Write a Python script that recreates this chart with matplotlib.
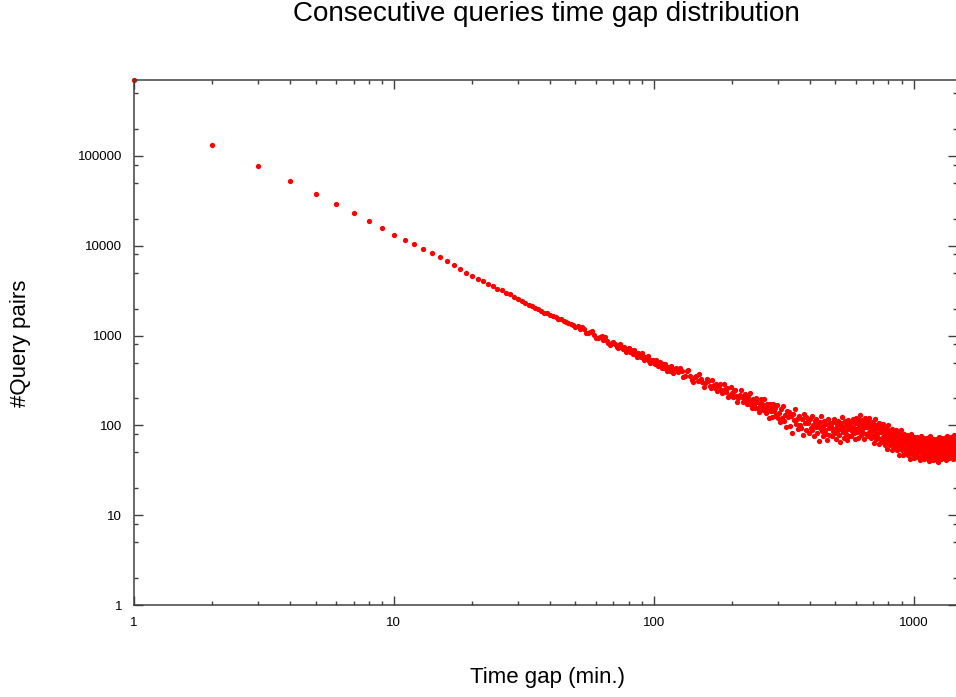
import numpy as np
import matplotlib
matplotlib.use("Agg")
import matplotlib.pyplot as plt
from matplotlib.ticker import LogLocator, FixedLocator, NullFormatter, FuncFormatter

plt.rcParams['font.family'] = ['Liberation Sans', 'DejaVu Sans']

# Query pairs per time gap, minutes 1..120 (one value per minute)
pairs_1_120 = [
    700000, 132000, 77500, 52500, 38000, 29000, 23300, 19000, 15800, 13300,
    11700, 10350, 9100, 8200, 7400, 6700, 6100, 5450, 5000, 4580,
    4300, 4050, 3780, 3560, 3320, 3190, 3010, 2880, 2660, 2540,
    2420, 2330, 2210, 2140, 2050, 1950, 1890, 1800, 1760, 1690,
    1640, 1600, 1530, 1510, 1450, 1420, 1370, 1330, 1300, 1260,
    1272, 1186, 1256, 1172, 1057, 1057, 1108, 1113, 1007, 934,
    934, 972, 981, 888, 968, 879, 828, 786, 821, 854,
    815, 746, 725, 803, 745, 710, 749, 650, 703, 732,
    654, 683, 620, 682, 627, 580, 639, 611, 572, 634,
    591, 537, 553, 584, 587, 520, 492, 528, 541, 497,
    481, 530, 499, 454, 472, 514, 484, 436, 481, 434,
    478, 438, 402, 449, 436, 401, 456, 401, 379, 423,
]

# minutes 122..300, every 2 minutes
pairs_122_300 = [
    431, 394, 439, 399, 346, 358, 400, 411, 354, 324,
    304, 344, 355, 310, 373, 329, 301, 269, 299, 327,
    311, 272, 262, 318, 280, 262, 292, 239, 274, 291,
    248, 230, 286, 253, 237, 260, 205, 219, 269, 231,
    208, 240, 248, 214, 184, 202, 219, 247, 205, 182,
    209, 226, 186, 172, 206, 186, 227, 170, 155, 187,
    197, 173, 155, 201, 183, 158, 140, 171, 197, 158,
    174, 147, 195, 158, 136, 174, 146, 157, 122, 174,
    146, 160, 123, 171, 144, 127, 158, 130, 170, 120,
]

# minutes 303..1440, every 3 minutes
pairs_303_1440 = [
    137, 108, 152, 121, 164, 113, 129, 97, 144, 123,
    141, 99, 126, 82, 134, 114, 154, 104, 119, 91,
    128, 101, 93, 118, 79, 135, 107, 89, 123, 109,
    106, 83, 119, 94, 128, 89, 101, 76, 113, 97,
    117, 82, 104, 67, 110, 94, 128, 86, 99, 76,
    112, 88, 81, 103, 69, 117, 93, 78, 107, 95,
    98, 76, 110, 86, 118, 82, 93, 70, 104, 89,
    113, 79, 100, 65, 107, 91, 124, 84, 96, 73,
    111, 87, 80, 102, 68, 116, 92, 77, 106, 94,
    99, 77, 111, 87, 119, 83, 94, 71, 105, 90,
    120, 84, 106, 72, 114, 97, 131, 88, 102, 79,
    114, 90, 83, 106, 70, 120, 95, 80, 109, 97,
    101, 77, 108, 84, 121, 80, 95, 72, 99, 87,
    109, 77, 97, 63, 104, 88, 119, 81, 93, 71,
    101, 80, 73, 94, 62, 106, 84, 70, 96, 86,
    85, 66, 96, 75, 103, 71, 81, 61, 91, 78,
    94, 65, 83, 54, 89, 75, 102, 69, 79, 61,
    87, 69, 63, 81, 53, 92, 72, 60, 83, 73,
    74, 57, 83, 65, 89, 62, 70, 53, 78, 67,
    82, 57, 72, 47, 77, 66, 89, 60, 69, 53,
    78, 61, 56, 72, 47, 81, 64, 54, 74, 65,
    65, 51, 73, 58, 79, 55, 62, 47, 69, 60,
    73, 51, 65, 42, 69, 59, 80, 54, 62, 48,
    71, 56, 51, 65, 43, 74, 58, 49, 67, 59,
    62, 48, 70, 55, 75, 52, 59, 44, 66, 57,
    71, 50, 63, 41, 67, 57, 77, 52, 60, 46,
    69, 55, 50, 64, 42, 73, 57, 48, 66, 58,
    60, 47, 67, 53, 72, 50, 57, 43, 64, 55,
    70, 49, 62, 40, 66, 56, 76, 51, 59, 45,
    67, 53, 48, 62, 41, 70, 55, 47, 64, 56,
    59, 46, 66, 52, 71, 49, 56, 42, 63, 54,
    68, 48, 60, 39, 64, 55, 75, 50, 58, 44,
    68, 54, 49, 63, 42, 72, 56, 48, 65, 57,
    60, 47, 67, 53, 73, 50, 57, 43, 64, 55,
    70, 49, 62, 41, 66, 56, 76, 51, 59, 45,
    69, 55, 50, 64, 43, 73, 57, 48, 66, 58,
    61, 48, 68, 54, 74, 51, 58, 44, 65, 56,
    71, 50, 63, 42, 67, 57, 78, 52, 60, 46,
]

gap = np.concatenate([np.arange(1, 121), np.arange(122, 301, 2), np.arange(303, 1441, 3)])
pairs = np.array(pairs_1_120 + pairs_122_300 + pairs_303_1440)

fig = plt.figure(figsize=(9.56, 6.97), dpi=100)
ax = fig.add_axes([134 / 956, 92 / 697, 823 / 956, 525 / 697])

ax.plot(gap, pairs, 'o', color='#ff0000', markersize=3.8, markeredgewidth=0, clip_on=False)

ax.set_xscale('log')
ax.set_yscale('log')
ax.set_xlim(1, 1470)
ax.set_ylim(1, 700000)

ax.xaxis.set_major_locator(FixedLocator([1, 10, 100, 1000]))
ax.xaxis.set_major_formatter(FuncFormatter(lambda v, p: '%d' % v))
ax.xaxis.set_minor_locator(LogLocator(base=10, subs=range(2, 10)))
ax.xaxis.set_minor_formatter(NullFormatter())
ax.yaxis.set_major_locator(FixedLocator([1, 10, 100, 1000, 10000, 100000]))
ax.yaxis.set_major_formatter(FuncFormatter(lambda v, p: '%d' % v))
ax.yaxis.set_minor_locator(LogLocator(base=10, subs=[2, 5, 8]))
ax.yaxis.set_minor_formatter(NullFormatter())

ax.tick_params(which='both', direction='in', top=True, right=True, colors='#404040',
               labelcolor='black', labelsize=9.5, width=1.0)
ax.tick_params(which='major', length=6.5)
ax.tick_params(which='minor', length=3.2)
ax.tick_params(axis='y', pad=8.5)
ax.tick_params(axis='x', pad=9)

for s in ax.spines.values():
    s.set_color('#404040')
    s.set_linewidth(1.1)

ax.set_xlabel('Time gap (min.)', fontsize=16)
ax.set_ylabel('#Query pairs', fontsize=16)
ax.xaxis.set_label_coords(0.502, -0.139)
ax.yaxis.set_label_coords(-0.1385, 0.499)
ax.xaxis.label.set_verticalalignment('center')
ax.yaxis.label.set_verticalalignment('center')

fig.text(546 / 956, 1 - 14 / 697, 'Consecutive queries time gap distribution',
         ha='center', va='center', fontsize=20)

fig.savefig('out.png', dpi=100)
